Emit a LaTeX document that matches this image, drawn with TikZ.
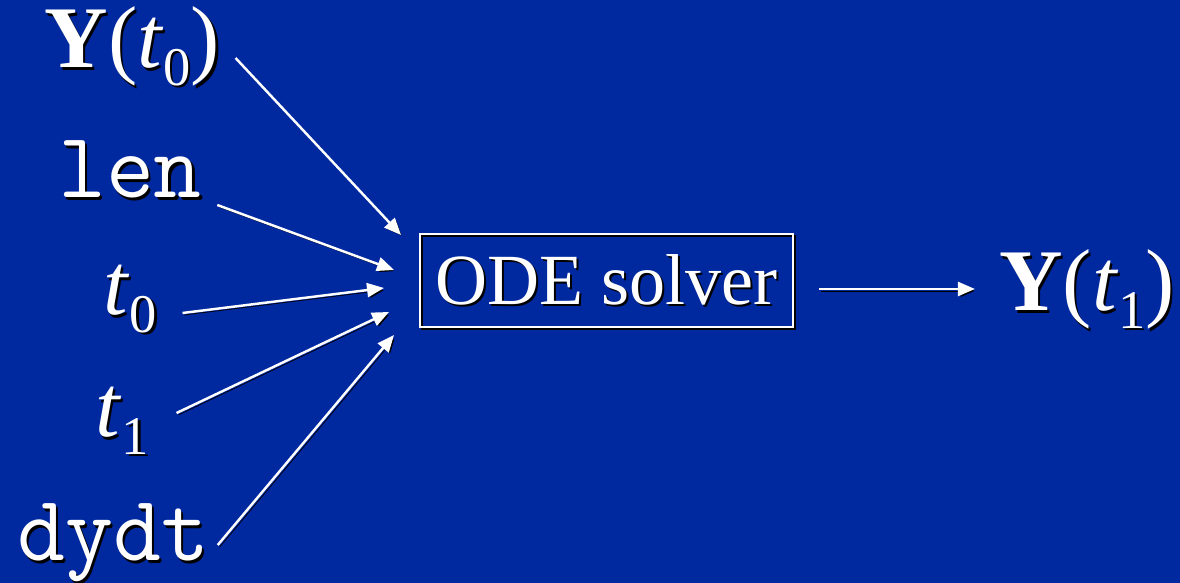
\documentclass[tikz,border=0pt]{standalone}
\usepackage{fontspec}
\setmainfont{Liberation Serif}
\usetikzlibrary{arrows.meta,positioning}

\definecolor{slideblue}{RGB}{0,41,160}
\newcommand{\shadowtext}[1]{\rlap{\color{black}\kern1.2pt\raisebox{-1.2pt}{#1}}#1}
\newcommand{\lowidx}[1]{\raisebox{-0.2em}{\fontsize{31pt}{31pt}\selectfont #1}}

\begin{document}
\begin{tikzpicture}[
  mathlbl/.style={text=white, inner sep=0pt, anchor=base, font=\fontsize{50pt}{54pt}\selectfont},
  codelbl/.style={text=white, inner sep=0pt, anchor=base, font=\fontsize{53pt}{56pt}\ttfamily},
  solverbox/.style={draw=white, line width=1.1pt, text=white, minimum width=7.46cm, minimum height=1.86cm,
    font=\fontsize{41pt}{45pt}\selectfont,
    preaction={draw=black, transform canvas={shift={(1.2pt,-1.2pt)}}}},
  feed/.style={draw=white, line width=1.4pt, -{Triangle[length=0.34cm,width=0.28cm]},
    preaction={draw=black, -{Triangle[length=0.34cm,width=0.28cm]}, transform canvas={shift={(1.1pt,-1.1pt)}}}}
]
\fill[slideblue] (0,0) rectangle (23.6,11.66);
\useasboundingbox (0,0) rectangle (23.6,11.66);

% inputs
\node[mathlbl] (y0) at (2.65, 10.30) {\shadowtext{\textbf{Y}(\textit{t}\lowidx{0})}};
\node[codelbl] (len) at (2.60, 7.70) {\shadowtext{len}};
\node[mathlbl] (t0) at (2.61, 5.36) {\shadowtext{\textit{t}\lowidx{0}}};
\node[mathlbl] (t1) at (2.45, 2.92) {\shadowtext{\textit{t}\lowidx{1}}};
\node[codelbl] (dydt) at (2.27, 0.44) {\shadowtext{dydt}};

% solver and output
\node[solverbox] (solver) at (12.13, 6.05) {\shadowtext{ODE solver}};
\node[mathlbl] (y1) at (21.74, 5.44) {\shadowtext{\textbf{Y}(\textit{t}\lowidx{1})}};

\coordinate (in1) at ([shift={(-0.36,0.91)}]solver.west);
\coordinate (in2) at ([shift={(-0.50,0.21)}]solver.west);
\coordinate (in3) at ([shift={(-0.70,-0.15)}]solver.west);
\coordinate (in4) at ([shift={(-0.60,-0.63)}]solver.west);
\coordinate (in5) at ([shift={(-0.50,-1.09)}]solver.west);

\draw[feed] ([shift={(0.30,0.20)}]y0.base east) -- (in1);
\draw[feed] ([shift={(0.30,-0.14)}]len.base east) -- (in2);
\draw[feed] ([shift={(0.50,0.04)}]t0.base east) -- (in3);
\draw[feed] ([shift={(0.54,0.48)}]t1.base east) -- (in4);
\draw[feed] ([shift={(0.16,0.32)}]dydt.base east) -- (in5);
\draw[feed] ([shift={(0.50,-0.17)}]solver.east) -- ([shift={(-0.48,0.44)}]y1.base west);
\end{tikzpicture}
\end{document}
